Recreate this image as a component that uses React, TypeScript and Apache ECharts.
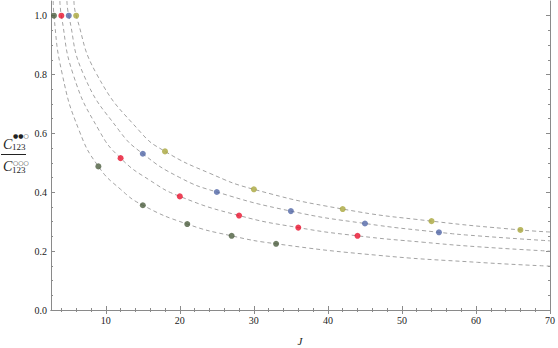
import React, { useEffect, useRef } from "react";
import * as echarts from "echarts";

// Points (J, ratio)
const DARK_J = [3, 9, 15, 21, 27, 33];
const DARK_V = [1.0, 0.488, 0.356, 0.292, 0.252, 0.225];
const RED_J = [4, 12, 20, 28, 36, 44];
const RED_V = [1.0, 0.516, 0.386, 0.321, 0.28, 0.252];
const BLUE_J = [5, 15, 25, 35, 45, 55];
const BLUE_V = [1.0, 0.531, 0.401, 0.336, 0.294, 0.264];
const YEL_J = [6, 18, 30, 42, 54, 66];
const YEL_V = [1.0, 0.539, 0.41, 0.343, 0.302, 0.272];

// Dashed curves
const CURVE_DARK_J = [2.9, 3, 4.13, 6.4, 9, 12, 15, 21, 27, 33, 46.7, 60.2, 70];
const CURVE_DARK_V = [1.05, 1.0, 0.8, 0.61, 0.488, 0.41, 0.356, 0.292, 0.252, 0.225, 0.186, 0.162, 0.149];
const CURVE_RED_J = [3.8, 4, 5.6, 9.1, 12, 16, 20, 28, 36, 44, 53, 60.2, 70];
const CURVE_RED_V = [1.05, 1.0, 0.8, 0.61, 0.516, 0.44, 0.386, 0.321, 0.28, 0.252, 0.23, 0.215, 0.2];
const CURVE_BLUE_J = [4.75, 5, 7, 11.8, 15, 20, 25, 35, 45, 55, 60.2, 70];
const CURVE_BLUE_V = [1.05, 1.0, 0.8, 0.61, 0.531, 0.45, 0.401, 0.336, 0.294, 0.264, 0.252, 0.235];
const CURVE_YEL_J = [5.7, 6, 8.8, 14.7, 18, 24, 30, 42, 54, 66, 70];
const CURVE_YEL_V = [1.05, 1.0, 0.8, 0.604, 0.539, 0.465, 0.41, 0.343, 0.302, 0.272, 0.265];

const X_MAJOR = [10, 20, 30, 40, 50, 60, 70];
const X_MINOR = [4, 6, 8, 12, 14, 16, 18, 22, 24, 26, 28, 32, 34, 36, 38, 42, 44, 46, 48, 52, 54, 56, 58, 62, 64, 66, 68];
const Y_MAJOR = [0, 0.2, 0.4, 0.6, 0.8, 1.0];
const Y_MINOR = [0.05, 0.1, 0.15, 0.25, 0.3, 0.35, 0.45, 0.5, 0.55, 0.65, 0.7, 0.75, 0.85, 0.9, 0.95];

const COLORS = ["#4c5e3e", "#e8122d", "#5166a6", "#a9a63c"];
const AXIS_COLOR = "#8a8a8a";
const FONT = "Liberation Serif";

const zip = (a: number[], b: number[]) => a.map((v, i) => [v, b[i]]);

export default function App() {
  const ref = useRef<HTMLDivElement>(null);
  useEffect(() => {
    if (!ref.current) return;
    const chart = echarts.init(ref.current, undefined, { renderer: "svg" });
    const xBase = { type: "value", min: 2.6, max: 70, gridIndex: 0, splitLine: { show: false } };
    const yBase = { type: "value", min: 0, max: 1.05, gridIndex: 0, splitLine: { show: false } };
    const line = { show: true, lineStyle: { color: AXIS_COLOR, width: 1 } };
    const noLine = { show: false };
    const noLabel = { show: false };
    const tick = (vals: number[], len: number) => ({
      show: true, inside: true, length: len, customValues: vals,
      lineStyle: { color: AXIS_COLOR, width: 1 },
    });
    const curve = (j: number[], v: number[]) => ({
      type: "line", data: zip(j, v), showSymbol: false, smooth: 0.5,
      clip: true, silent: true, z: 1,
      lineStyle: { color: "#a3a3a3", width: 1, type: [4, 3] },
    });
    const pts = (j: number[], v: number[], c: string) => ({
      type: "scatter", data: zip(j, v), symbol: "circle", symbolSize: 6, z: 3,
      itemStyle: { color: c }, clip: false,
    });
    chart.setOption({
      animation: false,
      grid: { left: 51, right: 4, top: 1, bottom: 38, containLabel: false },
      xAxis: [
        {
          ...xBase, position: "bottom", axisLine: line, axisTick: tick(X_MAJOR, 4),
          axisLabel: { show: true, customValues: X_MAJOR, color: "#222", fontFamily: FONT, fontSize: 10, margin: 5 },
        },
        { ...xBase, position: "bottom", axisLine: noLine, axisTick: tick(X_MINOR, 2), axisLabel: noLabel },
        { ...xBase, position: "top", axisLine: line, axisTick: tick(X_MAJOR, 4), axisLabel: noLabel },
        { ...xBase, position: "top", axisLine: noLine, axisTick: tick(X_MINOR, 2), axisLabel: noLabel },
      ],
      yAxis: [
        {
          ...yBase, position: "left", axisLine: line, axisTick: tick(Y_MAJOR, 4),
          axisLabel: {
            show: true, customValues: Y_MAJOR, color: "#222", fontFamily: FONT, fontSize: 10, margin: 4,
            formatter: (v: number) => v.toFixed(1),
          },
        },
        { ...yBase, position: "left", axisLine: noLine, axisTick: tick(Y_MINOR, 2), axisLabel: noLabel },
        { ...yBase, position: "right", axisLine: line, axisTick: tick(Y_MAJOR, 4), axisLabel: noLabel },
        { ...yBase, position: "right", axisLine: noLine, axisTick: tick(Y_MINOR, 2), axisLabel: noLabel },
      ],
      series: [
        curve(CURVE_DARK_J, CURVE_DARK_V),
        curve(CURVE_RED_J, CURVE_RED_V),
        curve(CURVE_BLUE_J, CURVE_BLUE_V),
        curve(CURVE_YEL_J, CURVE_YEL_V),
        pts(DARK_J, DARK_V, COLORS[0]),
        pts(RED_J, RED_V, COLORS[1]),
        pts(BLUE_J, BLUE_V, COLORS[2]),
        pts(YEL_J, YEL_V, COLORS[3]),
      ],
      graphic: [
        { type: "text", x: 300, y: 341, style: { text: "J", font: `italic 11px ${FONT}`, fill: "#222", align: "center", verticalAlign: "middle" } },
        // numerator
        { type: "text", x: 3, y: 144.5, style: { text: "C", font: `italic 14px ${FONT}`, fill: "#222", align: "left", verticalAlign: "middle" } },
        { type: "text", x: 13, y: 135.5, style: { text: "●●○", font: `6px DejaVu Sans`, fill: "#222", align: "left", verticalAlign: "middle" } },
        { type: "text", x: 12, y: 146.5, style: { text: "123", font: `9px ${FONT}`, fill: "#222", align: "left", verticalAlign: "middle" } },
        { type: "line", shape: { x1: 1, y1: 154.5, x2: 26, y2: 154.5 }, style: { stroke: "#222", lineWidth: 1 } },
        // denominator
        { type: "text", x: 3, y: 166, style: { text: "C", font: `italic 14px ${FONT}`, fill: "#222", align: "left", verticalAlign: "middle" } },
        { type: "text", x: 13, y: 162.5, style: { text: "○○○", font: `6px DejaVu Sans`, fill: "#222", align: "left", verticalAlign: "middle" } },
        { type: "text", x: 12, y: 169.5, style: { text: "123", font: `9px ${FONT}`, fill: "#222", align: "left", verticalAlign: "middle" } },
      ],
    });
    return () => chart.dispose();
  }, []);
  return <div ref={ref} style={{ width: 558, height: 348, position: "absolute", left: 0, top: 0 }} />;
}
